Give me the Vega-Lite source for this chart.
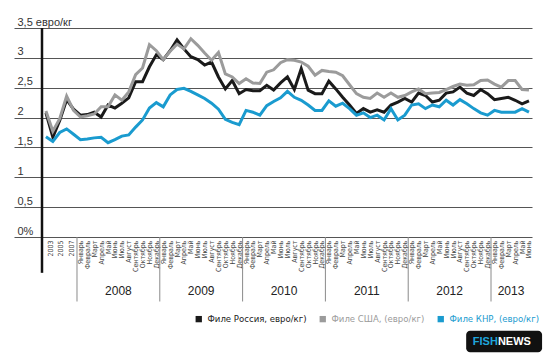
{
  "$schema": "https://vega.github.io/schema/vega-lite/v6.json",
  "width": 490,
  "height": 209,
  "autosize": "none",
  "padding": {"left": 42, "top": 28, "right": 18, "bottom": 120},
  "background": "white",
  "config": {"view": {"stroke": null}, "axis": {"labelOverlap": false}},
  "resolve": {"axis": {"x": "independent", "y": "independent"}},
  "datasets": {
    "prices": [
      {"t": -5, "ru": 2.08, "us": 2.11, "cn": 1.68},
      {"t": -4, "ru": 1.67, "us": 1.77, "cn": 1.60},
      {"t": -3, "ru": 1.95, "us": 1.98, "cn": 1.75},
      {"t": -2, "ru": 2.30, "us": 2.36, "cn": 1.81},
      {"t": -1, "ru": 2.14, "us": 2.12, "cn": 1.72},
      {"t": 0, "ru": 2.04, "us": 2.01, "cn": 1.63},
      {"t": 1, "ru": 2.05, "us": 2.03, "cn": 1.64},
      {"t": 2, "ru": 2.09, "us": 2.06, "cn": 1.66},
      {"t": 3, "ru": 2.01, "us": 2.18, "cn": 1.67},
      {"t": 4, "ru": 2.21, "us": 2.18, "cn": 1.58},
      {"t": 5, "ru": 2.16, "us": 2.38, "cn": 1.63},
      {"t": 6, "ru": 2.24, "us": 2.29, "cn": 1.69},
      {"t": 7, "ru": 2.33, "us": 2.43, "cn": 1.71},
      {"t": 8, "ru": 2.60, "us": 2.72, "cn": 1.84},
      {"t": 9, "ru": 2.60, "us": 2.83, "cn": 1.96},
      {"t": 10, "ru": 2.85, "us": 3.22, "cn": 2.16},
      {"t": 11, "ru": 3.05, "us": 3.12, "cn": 2.25},
      {"t": 12, "ru": 2.97, "us": 2.97, "cn": 2.18},
      {"t": 13, "ru": 3.12, "us": 3.11, "cn": 2.38},
      {"t": 14, "ru": 3.30, "us": 3.23, "cn": 2.47},
      {"t": 15, "ru": 3.15, "us": 3.15, "cn": 2.49},
      {"t": 16, "ru": 3.02, "us": 3.32, "cn": 2.44},
      {"t": 17, "ru": 2.97, "us": 3.21, "cn": 2.38},
      {"t": 18, "ru": 2.88, "us": 3.08, "cn": 2.32},
      {"t": 19, "ru": 2.93, "us": 2.96, "cn": 2.24},
      {"t": 20, "ru": 2.68, "us": 3.09, "cn": 2.14},
      {"t": 21, "ru": 2.48, "us": 2.73, "cn": 1.97},
      {"t": 22, "ru": 2.62, "us": 2.68, "cn": 1.92},
      {"t": 23, "ru": 2.40, "us": 2.57, "cn": 1.88},
      {"t": 24, "ru": 2.47, "us": 2.65, "cn": 2.12},
      {"t": 25, "ru": 2.45, "us": 2.58, "cn": 2.09},
      {"t": 26, "ru": 2.45, "us": 2.57, "cn": 2.04},
      {"t": 27, "ru": 2.54, "us": 2.76, "cn": 2.20},
      {"t": 28, "ru": 2.46, "us": 2.80, "cn": 2.27},
      {"t": 29, "ru": 2.58, "us": 2.92, "cn": 2.33},
      {"t": 30, "ru": 2.68, "us": 2.97, "cn": 2.44},
      {"t": 31, "ru": 2.47, "us": 2.96, "cn": 2.34},
      {"t": 32, "ru": 2.82, "us": 2.93, "cn": 2.29},
      {"t": 33, "ru": 2.46, "us": 2.86, "cn": 2.21},
      {"t": 34, "ru": 2.40, "us": 2.71, "cn": 2.12},
      {"t": 35, "ru": 2.40, "us": 2.79, "cn": 2.12},
      {"t": 36, "ru": 2.61, "us": 2.77, "cn": 2.28},
      {"t": 37, "ru": 2.48, "us": 2.76, "cn": 2.19},
      {"t": 38, "ru": 2.34, "us": 2.70, "cn": 2.24},
      {"t": 39, "ru": 2.21, "us": 2.55, "cn": 2.15},
      {"t": 40, "ru": 2.07, "us": 2.40, "cn": 2.04},
      {"t": 41, "ru": 2.15, "us": 2.34, "cn": 2.08},
      {"t": 42, "ru": 2.09, "us": 2.32, "cn": 2.00},
      {"t": 43, "ru": 2.13, "us": 2.41, "cn": 2.04},
      {"t": 44, "ru": 2.09, "us": 2.34, "cn": 1.96},
      {"t": 45, "ru": 2.21, "us": 2.41, "cn": 2.15},
      {"t": 46, "ru": 2.26, "us": 2.34, "cn": 1.96},
      {"t": 47, "ru": 2.32, "us": 2.37, "cn": 2.04},
      {"t": 48, "ru": 2.26, "us": 2.43, "cn": 2.21},
      {"t": 49, "ru": 2.41, "us": 2.48, "cn": 2.23},
      {"t": 50, "ru": 2.37, "us": 2.40, "cn": 2.15},
      {"t": 51, "ru": 2.26, "us": 2.41, "cn": 2.21},
      {"t": 52, "ru": 2.29, "us": 2.42, "cn": 2.18},
      {"t": 53, "ru": 2.41, "us": 2.47, "cn": 2.29},
      {"t": 54, "ru": 2.43, "us": 2.52, "cn": 2.21},
      {"t": 55, "ru": 2.51, "us": 2.56, "cn": 2.30},
      {"t": 56, "ru": 2.41, "us": 2.54, "cn": 2.23},
      {"t": 57, "ru": 2.37, "us": 2.55, "cn": 2.15},
      {"t": 58, "ru": 2.47, "us": 2.62, "cn": 2.08},
      {"t": 59, "ru": 2.40, "us": 2.63, "cn": 2.04},
      {"t": 60, "ru": 2.30, "us": 2.56, "cn": 2.12},
      {"t": 61, "ru": 2.32, "us": 2.51, "cn": 2.09},
      {"t": 62, "ru": 2.34, "us": 2.62, "cn": 2.09},
      {"t": 63, "ru": 2.29, "us": 2.62, "cn": 2.09},
      {"t": 64, "ru": 2.23, "us": 2.47, "cn": 2.15},
      {"t": 65, "ru": 2.28, "us": 2.46, "cn": 2.09}
    ],
    "seps": [{"t": -0.5}, {"t": 11.5}, {"t": 23.5}, {"t": 35.5}, {"t": 47.5}, {"t": 59.5}],
    "years": [
      {"t": 5.5, "year": "2008"}, {"t": 17.5, "year": "2009"}, {"t": 29.5, "year": "2010"},
      {"t": 41.5, "year": "2011"}, {"t": 53.5, "year": "2012"}, {"t": 62.4, "year": "2013"}
    ],
    "axisline": [{"t": -5.57, "top": 3.5, "bottom": -0.6}],
    "logo": [{"x1": 55.9, "x2": 66.9, "y1": -1.57, "y2": -1.93, "xm": 60.5, "ym": -1.75, "a": "FISH", "b": "NEWS"}]
  },
  "layer": [
    {
      "data": {"name": "prices"},
      "transform": [
        {"fold": ["ru", "us", "cn"], "as": ["key", "v"]},
        {"lookup": "key", "from": {"data": {"values": [
          {"key": "ru", "series": "Филе Россия, евро/кг)"},
          {"key": "us", "series": "Филе США, (евро/кг)"},
          {"key": "cn", "series": "Филе КНР, (евро/кг)"}
        ]}, "key": "key", "fields": ["series"]}}
      ],
      "mark": {"type": "line", "strokeWidth": 3, "strokeJoin": "miter"},
      "encoding": {
        "x": {
          "field": "t", "type": "quantitative",
          "scale": {"domain": [-5.57, 65.44], "nice": false, "zero": false},
          "axis": {
            "title": null, "domain": false, "ticks": false, "grid": false,
            "values": [-4.34, -2.89, -1.3, 0,1,2,3,4,5,6,7,8,9,10,11,12,13,14,15,16,17,18,19,20,21,22,23,24,25,26,27,28,29,30,31,32,33,34,35,36,37,38,39,40,41,42,43,44,45,46,47,48,49,50,51,52,53,54,55,56,57,58,59,60,61,62,63,64,65],
            "labelExpr": "datum.value < -3.5 ? '2003' : datum.value < -2 ? '2005' : datum.value < 0 ? '2007' : ['Январь','Февраль','Март','Апрель','Май','Июнь','Июль','Август','Сентябрь','Октябрь','Ноябрь','Декабрь'][datum.value % 12]",
            "labelAngle": -90, "labelFont": "DejaVu Sans Condensed", "labelFontSize": 7,
            "labelColor": "#444", "labelPadding": 3, "labelOverlap": false, "labelBound": false, "labelFlush": false
          }
        },
        "y": {
          "field": "v", "type": "quantitative",
          "scale": {"domain": [0, 3.5], "nice": false},
          "axis": {
            "title": null, "values": [0, 0.5, 1, 1.5, 2, 2.5, 3, 3.5],
            "domain": false, "grid": true, "gridColor": "#555", "gridWidth": 1,
            "ticks": true, "tickSize": 28, "tickColor": "#555", "tickWidth": 1,
            "labelAlign": "left", "labelBaseline": "alphabetic", "labelPadding": -3, "labelOffset": -3,
            "labelFont": "Liberation Sans", "labelFontSize": 11, "labelColor": "#333",
            "labelExpr": "datum.value == 0 ? '0%' : datum.value == 3.5 ? '3,5 евро/кг' : replace(format(datum.value, '~g'), '.', ',')",
            "labelBound": false, "labelFlush": false, "labelOverlap": false
          }
        },
        "color": {
          "field": "series", "type": "nominal",
          "scale": {"domain": ["Филе Россия, евро/кг)", "Филе США, (евро/кг)", "Филе КНР, (евро/кг)"], "range": ["#1a1a1a", "#9b9b9b", "#1a9bcf"]},
          "legend": {
            "title": null, "orient": "none", "direction": "horizontal", "legendX": 152, "legendY": 286,
            "symbolType": "square", "symbolSize": 40, "symbolStrokeWidth": 0,
            "labelFont": "DejaVu Sans Condensed", "labelFontSize": 9.5, "columnPadding": 11, "labelOffset": 4,
            "encode": {
              "symbols": {"update": {"fill": {"scale": "color", "field": "value"}, "stroke": {"value": "transparent"}}},
              "labels": {"update": {"fill": {"scale": "color", "field": "value"}}}
            }
          }
        },
        "order": {"field": "t", "type": "quantitative"}
      }
    },
    {
      "data": {"name": "seps"},
      "mark": {"type": "rule", "color": "#8a8a8a", "strokeWidth": 1},
      "encoding": {
        "x": {"field": "t", "type": "quantitative", "axis": null},
        "y": {"datum": 0, "axis": null},
        "y2": {"datum": -1.08}
      }
    },
    {
      "data": {"name": "years"},
      "mark": {"type": "text", "font": "Liberation Sans", "fontSize": 12, "color": "#222", "baseline": "middle", "align": "center"},
      "encoding": {
        "x": {"field": "t", "type": "quantitative", "axis": null},
        "y": {"datum": -0.91, "axis": null},
        "text": {"field": "year"}
      }
    },
    {
      "data": {"name": "axisline"},
      "mark": {"type": "rule", "color": "#111", "strokeWidth": 2.5},
      "encoding": {
        "x": {"field": "t", "type": "quantitative", "axis": null},
        "y": {"field": "top", "type": "quantitative", "axis": null},
        "y2": {"field": "bottom"}
      }
    },
    {
      "data": {"name": "logo"},
      "mark": {"type": "rect", "color": "#111", "cornerRadius": 4},
      "encoding": {
        "x": {"field": "x1", "type": "quantitative", "axis": null},
        "x2": {"field": "x2"},
        "y": {"field": "y1", "type": "quantitative", "axis": null},
        "y2": {"field": "y2"}
      }
    },
    {
      "data": {"name": "logo"},
      "mark": {"type": "text", "font": "Liberation Sans", "fontSize": 11, "fontWeight": "bold", "color": "#1fa6dc", "align": "right", "baseline": "middle"},
      "encoding": {
        "x": {"field": "xm", "type": "quantitative", "axis": null},
        "y": {"field": "ym", "type": "quantitative", "axis": null},
        "text": {"field": "a"}
      }
    },
    {
      "data": {"name": "logo"},
      "mark": {"type": "text", "font": "Liberation Sans", "fontSize": 11, "fontWeight": "bold", "color": "#ffffff", "align": "left", "baseline": "middle"},
      "encoding": {
        "x": {"field": "xm", "type": "quantitative", "axis": null},
        "y": {"field": "ym", "type": "quantitative", "axis": null},
        "text": {"field": "b"}
      }
    }
  ]
}
